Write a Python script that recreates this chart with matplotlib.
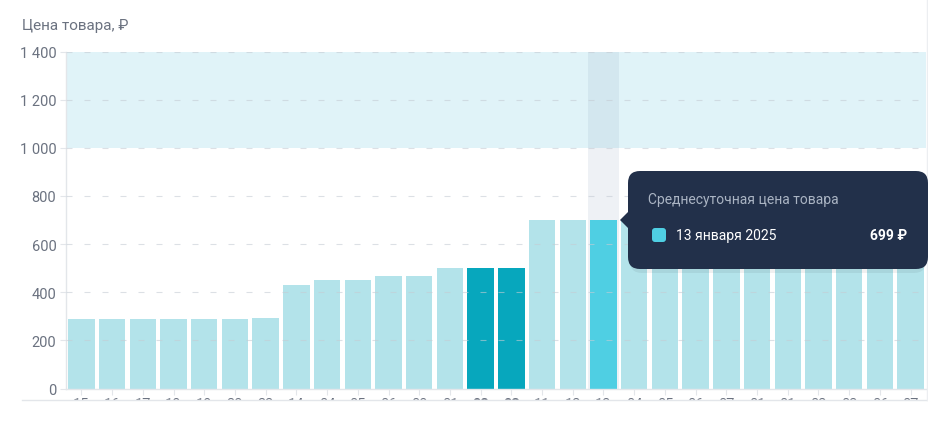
import matplotlib
matplotlib.use("Agg")
import matplotlib.pyplot as plt
from matplotlib.patches import FancyBboxPatch, Polygon, Rectangle
from matplotlib.transforms import IdentityTransform
from matplotlib.lines import Line2D

plt.rcParams["font.family"] = ["Roboto", "DejaVu Sans"]

# Data
day_labels = ["15", "16", "17", "18", "19", "20", "22", "14", "04", "05",
              "06", "08", "01", "02", "03", "11", "12", "13", "04", "05",
              "06", "07", "01", "01", "02", "03", "06", "07"]
prices = [290, 290, 290, 290, 290, 290, 294, 429, 449, 449,
          469, 469, 499, 499, 499, 699, 699, 699, 699, 699,
          699, 699, 699, 699, 699, 699, 699, 699]
selected_idx = [13, 14]     # dark bars
hover_idx = 17              # hovered bar
band_low, band_high = 1000, 1400
y_ticks = [0, 200, 400, 600, 800, 1000, 1200, 1400]
tooltip_title = "Среднесуточная цена товара"
tooltip_date = "13 января 2025"
tooltip_value = "699 ₽"

C_LIGHT = "#b3e3ea"
C_DARK = "#07a7bd"
C_HOVER = "#4fcfe3"
C_BAND = "#e0f3f8"
C_TEXT = "#6b7280"
C_LINE = "#e3e6ea"

W, H = 929, 427
fig = plt.figure(figsize=(W / 100, H / 100), dpi=100)
ax = fig.add_axes([66 / W, 1 - 389.5 / H, (926 - 66) / W, (389.5 - 52.5) / H])

n = len(prices)
x = list(range(n))
colors = []
for i in x:
    if i == hover_idx:
        colors.append(C_HOVER)
    elif i in selected_idx:
        colors.append(C_DARK)
    else:
        colors.append(C_LIGHT)

ax.axhspan(band_low, band_high, color=C_BAND, zorder=0, lw=0)
ax.axvspan(hover_idx - 0.5, hover_idx + 0.5, color="#8fa3bf", alpha=0.15, lw=0, zorder=1)
ax.bar(x, prices, width=0.86, color=colors, zorder=2, linewidth=0)

for t in y_ticks[1:]:
    ax.axhline(t, color="#c5ccd4", lw=0.8, alpha=0.6, dashes=(5.4, 10.8), zorder=3)

ax.set_xlim(-0.5, n - 0.5)
ax.set_ylim(0, 1400)
ax.set_yticks(y_ticks)
ax.set_yticklabels([f"{t:,}".replace(",", " ") for t in y_ticks])
ax.set_xticks(x)
ax.set_xticklabels(day_labels)
for i, lab in enumerate(ax.get_xticklabels()):
    if i in selected_idx:
        lab.set_fontweight("bold")
        lab.set_color("#4b5563")

ax.tick_params(axis="y", length=4, color=C_LINE, labelsize=10.5, labelcolor=C_TEXT, pad=3)
ax.tick_params(axis="x", length=4, color=C_LINE, labelsize=10.5, labelcolor=C_TEXT, pad=2)
for s in ["top", "right"]:
    ax.spines[s].set_visible(False)
for s in ["left", "bottom"]:
    ax.spines[s].set_color(C_LINE)
    ax.spines[s].set_linewidth(1)

fig.text(22 / W, 1 - 26 / H, "Цена товара, ₽", fontsize=11, color=C_TEXT,
         va="center", ha="left")

# container clipping the x labels
idt = IdentityTransform()
fig.patches.append(Rectangle((0, 0), W, H - 401, transform=idt, color="white", zorder=10))
fig.lines.append(Line2D([22, W], [H - 401, H - 401], transform=idt, color=C_LINE, lw=1, zorder=11))
fig.lines.append(Line2D([927, 927], [H - 401, H], transform=idt, color="#eceef1", lw=1, zorder=11))

# tooltip
bx0, bx1, by_top, by_bot = 628, 928, 172, 270
fig.patches.append(FancyBboxPatch((bx0 + 2, H - by_bot - 4), bx1 - bx0 - 4, by_bot - by_top,
                                  boxstyle="round,pad=0,rounding_size=12", transform=idt,
                                  facecolor="#000000", alpha=0.06, lw=0, zorder=11))
fig.patches.append(FancyBboxPatch((bx0, H - by_bot), bx1 - bx0, by_bot - by_top,
                                  boxstyle="round,pad=0,rounding_size=12", transform=idt,
                                  facecolor="#22304a", lw=0, zorder=12))
fig.patches.append(Polygon([(620, H - 221), (bx0 + 1, H - 212), (bx0 + 1, H - 230)],
                           transform=idt, facecolor="#22304a", lw=0, zorder=12))
fig.patches.append(FancyBboxPatch((652, H - 243), 14, 14, boxstyle="round,pad=0,rounding_size=3",
                                  transform=idt, facecolor=C_HOVER, lw=0, zorder=13))
fig.text(648 / W, 1 - 200 / H, tooltip_title, fontsize=10, color="#aab4c3",
         va="center", ha="left", zorder=13)
fig.text(676 / W, 1 - 236 / H, tooltip_date, fontsize=10, color="white",
         va="center", ha="left", zorder=13)
fig.text(907 / W, 1 - 236 / H, tooltip_value, fontsize=10, color="white", fontweight="bold",
         va="center", ha="right", zorder=13)

fig.savefig("out.png", dpi=100)
